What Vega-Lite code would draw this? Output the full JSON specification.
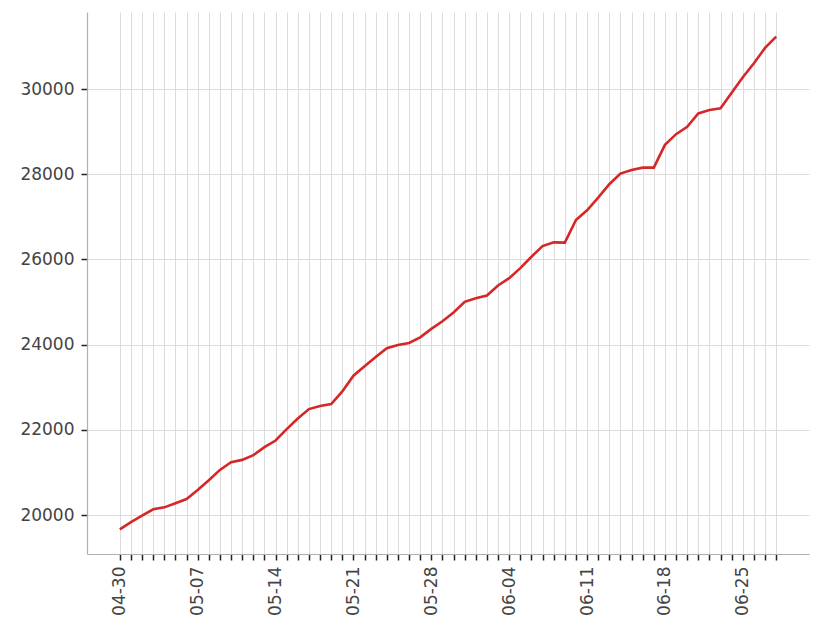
{
  "$schema": "https://vega.github.io/schema/vega-lite/v6.json",
  "width": 722,
  "height": 542,
  "autosize": "none",
  "padding": {"left": 87, "top": 12, "right": 21, "bottom": 69},
  "background": "white",
  "config": {
    "view": {"stroke": null},
    "font": "DejaVu Sans"
  },
  "data": {
    "values": [
      {"date": "2020-04-30", "value": 19663},
      {"date": "2020-05-01", "value": 19835},
      {"date": "2020-05-02", "value": 19984},
      {"date": "2020-05-03", "value": 20134},
      {"date": "2020-05-04", "value": 20180},
      {"date": "2020-05-05", "value": 20275},
      {"date": "2020-05-06", "value": 20376},
      {"date": "2020-05-07", "value": 20588},
      {"date": "2020-05-08", "value": 20816},
      {"date": "2020-05-09", "value": 21059},
      {"date": "2020-05-10", "value": 21240},
      {"date": "2020-05-11", "value": 21294},
      {"date": "2020-05-12", "value": 21405},
      {"date": "2020-05-13", "value": 21593},
      {"date": "2020-05-14", "value": 21749},
      {"date": "2020-05-15", "value": 22016},
      {"date": "2020-05-16", "value": 22266},
      {"date": "2020-05-17", "value": 22486},
      {"date": "2020-05-18", "value": 22557},
      {"date": "2020-05-19", "value": 22604},
      {"date": "2020-05-20", "value": 22900},
      {"date": "2020-05-21", "value": 23271},
      {"date": "2020-05-22", "value": 23490},
      {"date": "2020-05-23", "value": 23710},
      {"date": "2020-05-24", "value": 23914},
      {"date": "2020-05-25", "value": 23992},
      {"date": "2020-05-26", "value": 24039},
      {"date": "2020-05-27", "value": 24172},
      {"date": "2020-05-28", "value": 24369},
      {"date": "2020-05-29", "value": 24549},
      {"date": "2020-05-30", "value": 24755},
      {"date": "2020-05-31", "value": 25005},
      {"date": "2020-06-01", "value": 25089},
      {"date": "2020-06-02", "value": 25153},
      {"date": "2020-06-03", "value": 25388},
      {"date": "2020-06-04", "value": 25560},
      {"date": "2020-06-05", "value": 25796},
      {"date": "2020-06-06", "value": 26063},
      {"date": "2020-06-07", "value": 26313},
      {"date": "2020-06-08", "value": 26400},
      {"date": "2020-06-09", "value": 26395},
      {"date": "2020-06-10", "value": 26925},
      {"date": "2020-06-11", "value": 27153},
      {"date": "2020-06-12", "value": 27451},
      {"date": "2020-06-13", "value": 27765},
      {"date": "2020-06-14", "value": 28016},
      {"date": "2020-06-15", "value": 28100},
      {"date": "2020-06-16", "value": 28155},
      {"date": "2020-06-17", "value": 28155},
      {"date": "2020-06-18", "value": 28689},
      {"date": "2020-06-19", "value": 28940},
      {"date": "2020-06-20", "value": 29113},
      {"date": "2020-06-21", "value": 29427},
      {"date": "2020-06-22", "value": 29506},
      {"date": "2020-06-23", "value": 29546},
      {"date": "2020-06-24", "value": 29913},
      {"date": "2020-06-25", "value": 30275},
      {"date": "2020-06-26", "value": 30605},
      {"date": "2020-06-27", "value": 30965},
      {"date": "2020-06-28", "value": 31231}
    ]
  },
  "mark": {"type": "line", "color": "#d62728", "strokeWidth": 2.6},
  "encoding": {
    "x": {
      "field": "date",
      "type": "temporal",
      "scale": {
        "type": "utc",
        "domain": [
          {"year": 2020, "month": 4, "date": 27, "hours": 1, "minutes": 12, "utc": true},
          {"year": 2020, "month": 6, "date": 30, "hours": 22, "minutes": 48, "utc": true}
        ],
        "nice": false
      },
      "axis": {
        "title": null,
        "values": [1588204800000, 1588291200000, 1588377600000, 1588464000000, 1588550400000, 1588636800000, 1588723200000, 1588809600000, 1588896000000, 1588982400000, 1589068800000, 1589155200000, 1589241600000, 1589328000000, 1589414400000, 1589500800000, 1589587200000, 1589673600000, 1589760000000, 1589846400000, 1589932800000, 1590019200000, 1590105600000, 1590192000000, 1590278400000, 1590364800000, 1590451200000, 1590537600000, 1590624000000, 1590710400000, 1590796800000, 1590883200000, 1590969600000, 1591056000000, 1591142400000, 1591228800000, 1591315200000, 1591401600000, 1591488000000, 1591574400000, 1591660800000, 1591747200000, 1591833600000, 1591920000000, 1592006400000, 1592092800000, 1592179200000, 1592265600000, 1592352000000, 1592438400000, 1592524800000, 1592611200000, 1592697600000, 1592784000000, 1592870400000, 1592956800000, 1593043200000, 1593129600000, 1593216000000, 1593302400000],
        "labelAngle": 270,
        "labelAlign": "right",
        "labelBaseline": "middle",
        "labelPadding": 6,
        "labelFontSize": 17,
        "labelColor": "#444444",
        "labelOverlap": false,
        "labelFlush": false,
        "labelExpr": "(datum.value - 1588204800000) % 604800000 == 0 ? utcFormat(datum.value, '%m-%d') : ''",
        "tickColor": "#222222",
        "tickSize": 6,
        "tickWidth": 1.5,
        "domainColor": "#b0b0b0",
        "domainWidth": 1.2,
        "grid": true,
        "gridColor": "#dcdcdc",
        "gridWidth": 1
      }
    },
    "y": {
      "field": "value",
      "type": "quantitative",
      "scale": {"domain": [19085, 31808], "nice": false, "zero": false},
      "axis": {
        "title": null,
        "values": [20000, 22000, 24000, 26000, 28000, 30000],
        "format": "d",
        "labelFontSize": 17,
        "labelColor": "#444444",
        "labelPadding": 7,
        "tickColor": "#222222",
        "tickSize": 6,
        "tickWidth": 1.5,
        "domainColor": "#b0b0b0",
        "domainWidth": 1.2,
        "grid": true,
        "gridColor": "#dcdcdc",
        "gridWidth": 1
      }
    }
  }
}
